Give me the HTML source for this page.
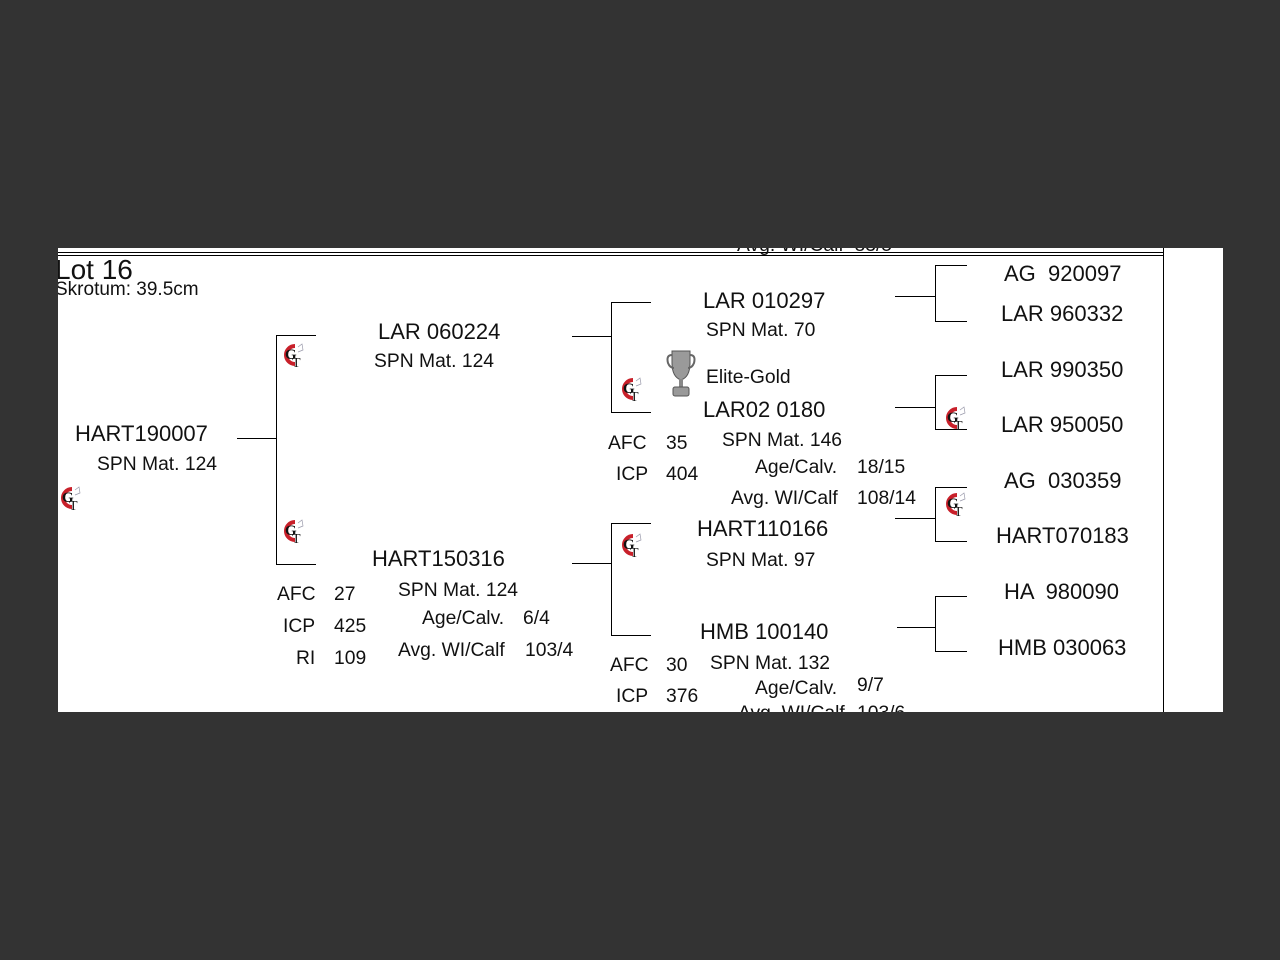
<!DOCTYPE html>
<html><head><meta charset="utf-8">
<style>
html,body{margin:0;padding:0;width:1280px;height:960px;background:#333;overflow:hidden;}
#clip{position:absolute;left:0;top:0;width:1280px;height:960px;clip-path:inset(248px 57px 248px 58px);}
#bg{position:absolute;left:58px;top:248px;width:1165px;height:464px;background:#fff;}
.t{position:absolute;font-family:"Liberation Sans",Arial,sans-serif;color:#111;white-space:pre;line-height:1;}
.b{font-size:22px;margin-top:1px;}
.s{font-size:19.3px;margin-top:1.5px;}
.h{position:absolute;height:1px;background:#000;}
.v{position:absolute;width:1px;background:#000;}
.gt{position:absolute;width:26px;height:26px;}
</style></head><body>
<div id="clip">
<div id="bg"></div>
<div class="h" style="left:58px;top:252px;width:1106px;"></div>
<div class="h" style="left:58px;top:255px;width:1106px;"></div>
<div class="v" style="left:1163px;top:248px;height:470px;"></div>

<div class="t s" style="left:737px;top:234px;">Avg. WI/Calf  83/5</div>

<div class="t" style="left:55px;top:256px;font-size:28px;">Lot 16</div>
<div class="t" style="left:55px;top:280px;font-size:19px;">Skrotum: 39.5cm</div>

<div class="t b" style="left:75px;top:422px;">HART190007</div>
<div class="t s" style="left:97px;top:453px;">SPN Mat. 124</div>
<div class="h" style="left:237px;top:438px;width:39px;"></div>
<div class="v" style="left:276px;top:335px;height:230px;"></div>
<div class="h" style="left:276px;top:335px;width:40px;"></div>
<div class="h" style="left:276px;top:564px;width:40px;"></div>

<div class="t b" style="left:378px;top:320px;">LAR 060224</div>
<div class="t s" style="left:374px;top:350px;">SPN Mat. 124</div>
<div class="h" style="left:572px;top:336px;width:39px;"></div>
<div class="v" style="left:611px;top:302px;height:111px;"></div>
<div class="h" style="left:611px;top:302px;width:40px;"></div>
<div class="h" style="left:611px;top:412px;width:40px;"></div>

<div class="t b" style="left:372px;top:547px;">HART150316</div>
<div class="t s" style="left:398px;top:579px;">SPN Mat. 124</div>
<div class="t s" style="left:422px;top:607px;">Age/Calv.</div>
<div class="t s" style="left:523px;top:607px;">6/4</div>
<div class="t s" style="left:398px;top:639px;">Avg. WI/Calf</div>
<div class="t s" style="left:525px;top:639px;">103/4</div>
<div class="t s" style="left:277px;top:583px;">AFC</div>
<div class="t s" style="left:334px;top:583px;">27</div>
<div class="t s" style="left:283px;top:615px;">ICP</div>
<div class="t s" style="left:334px;top:615px;">425</div>
<div class="t s" style="left:296px;top:647px;">RI</div>
<div class="t s" style="left:334px;top:647px;">109</div>
<div class="h" style="left:572px;top:563px;width:39px;"></div>
<div class="v" style="left:611px;top:523px;height:113px;"></div>
<div class="h" style="left:611px;top:523px;width:40px;"></div>
<div class="h" style="left:611px;top:635px;width:40px;"></div>

<div class="t b" style="left:703px;top:289px;">LAR 010297</div>
<div class="t s" style="left:706px;top:319px;">SPN Mat. 70</div>
<div class="t s" style="left:706px;top:366px;">Elite-Gold</div>
<div class="t b" style="left:703px;top:398px;">LAR02 0180</div>
<div class="t s" style="left:608px;top:432px;">AFC</div>
<div class="t s" style="left:666px;top:432px;">35</div>
<div class="t s" style="left:722px;top:429px;">SPN Mat. 146</div>
<div class="t s" style="left:616px;top:463px;">ICP</div>
<div class="t s" style="left:666px;top:463px;">404</div>
<div class="t s" style="left:755px;top:456px;">Age/Calv.</div>
<div class="t s" style="left:857px;top:456px;">18/15</div>
<div class="t s" style="left:731px;top:487px;">Avg. WI/Calf</div>
<div class="t s" style="left:857px;top:487px;">108/14</div>

<div class="t b" style="left:697px;top:517px;">HART110166</div>
<div class="t s" style="left:706px;top:549px;">SPN Mat. 97</div>
<div class="t b" style="left:700px;top:620px;">HMB 100140</div>
<div class="t s" style="left:610px;top:654px;">AFC</div>
<div class="t s" style="left:666px;top:654px;">30</div>
<div class="t s" style="left:710px;top:652px;">SPN Mat. 132</div>
<div class="t s" style="left:616px;top:685px;">ICP</div>
<div class="t s" style="left:666px;top:685px;">376</div>
<div class="t s" style="left:755px;top:677px;">Age/Calv.</div>
<div class="t s" style="left:857px;top:674px;">9/7</div>
<div class="t s" style="left:738px;top:702px;">Avg. WI/Calf</div>
<div class="t s" style="left:857px;top:702px;">103/6</div>

<div class="h" style="left:895px;top:296px;width:40px;"></div>
<div class="v" style="left:935px;top:265px;height:57px;"></div>
<div class="h" style="left:935px;top:265px;width:32px;"></div>
<div class="h" style="left:935px;top:321px;width:32px;"></div>

<div class="h" style="left:895px;top:407px;width:40px;"></div>
<div class="v" style="left:935px;top:375px;height:55px;"></div>
<div class="h" style="left:935px;top:375px;width:32px;"></div>
<div class="h" style="left:935px;top:429px;width:32px;"></div>

<div class="h" style="left:895px;top:518px;width:40px;"></div>
<div class="v" style="left:935px;top:487px;height:55px;"></div>
<div class="h" style="left:935px;top:487px;width:32px;"></div>
<div class="h" style="left:935px;top:541px;width:32px;"></div>

<div class="h" style="left:897px;top:627px;width:38px;"></div>
<div class="v" style="left:935px;top:596px;height:56px;"></div>
<div class="h" style="left:935px;top:596px;width:32px;"></div>
<div class="h" style="left:935px;top:651px;width:32px;"></div>

<div class="t b" style="left:1004px;top:262px;">AG  920097</div>
<div class="t b" style="left:1001px;top:302px;">LAR 960332</div>
<div class="t b" style="left:1001px;top:358px;">LAR 990350</div>
<div class="t b" style="left:1001px;top:413px;">LAR 950050</div>
<div class="t b" style="left:1004px;top:469px;">AG  030359</div>
<div class="t b" style="left:996px;top:524px;">HART070183</div>
<div class="t b" style="left:1004px;top:580px;">HA  980090</div>
<div class="t b" style="left:998px;top:636px;">HMB 030063</div>

<svg style="position:absolute;left:666px;top:349px;" width="30" height="50" viewBox="0 0 30 50">
<path d="M6 2 H24 V14 Q24 28 15 31 Q6 28 6 14 Z" fill="#9a9a9a" stroke="#555" stroke-width="1"/>
<path d="M6 6 Q0 6 2 14 Q4 19 8 19" fill="none" stroke="#666" stroke-width="2"/>
<path d="M24 6 Q30 6 28 14 Q26 19 22 19" fill="none" stroke="#666" stroke-width="2"/>
<rect x="13" y="30" width="4" height="8" fill="#888"/>
<rect x="7" y="38" width="16" height="9" rx="2" fill="#999" stroke="#555" stroke-width="1"/>
</svg>

<svg width="0" height="0" style="position:absolute">
<defs>
<g id="gtl">
<path d="M15 4 A9 9 0 1 0 15 22" fill="none" stroke="#c8202a" stroke-width="4"/>
<text x="5" y="17" font-family="Liberation Serif,serif" font-size="15" font-weight="bold" fill="#111">G</text>
<text x="12" y="25" font-family="Liberation Serif,serif" font-size="14" fill="#111">T</text>
<path d="M18 5 l4 -3 l1 6 l-5 2" fill="none" stroke="#99a" stroke-width="0.7"/>
</g>
</defs>
</svg>
<svg class="gt" style="left:280px;top:342px;" viewBox="0 0 26 26"><use href="#gtl"/></svg>
<svg class="gt" style="left:57px;top:485px;" viewBox="0 0 26 26"><use href="#gtl"/></svg>
<svg class="gt" style="left:280px;top:518px;" viewBox="0 0 26 26"><use href="#gtl"/></svg>
<svg class="gt" style="left:618px;top:376px;" viewBox="0 0 26 26"><use href="#gtl"/></svg>
<svg class="gt" style="left:618px;top:532px;" viewBox="0 0 26 26"><use href="#gtl"/></svg>
<svg class="gt" style="left:942px;top:405px;" viewBox="0 0 26 26"><use href="#gtl"/></svg>
<svg class="gt" style="left:942px;top:491px;" viewBox="0 0 26 26"><use href="#gtl"/></svg>
</div>
</body></html>
